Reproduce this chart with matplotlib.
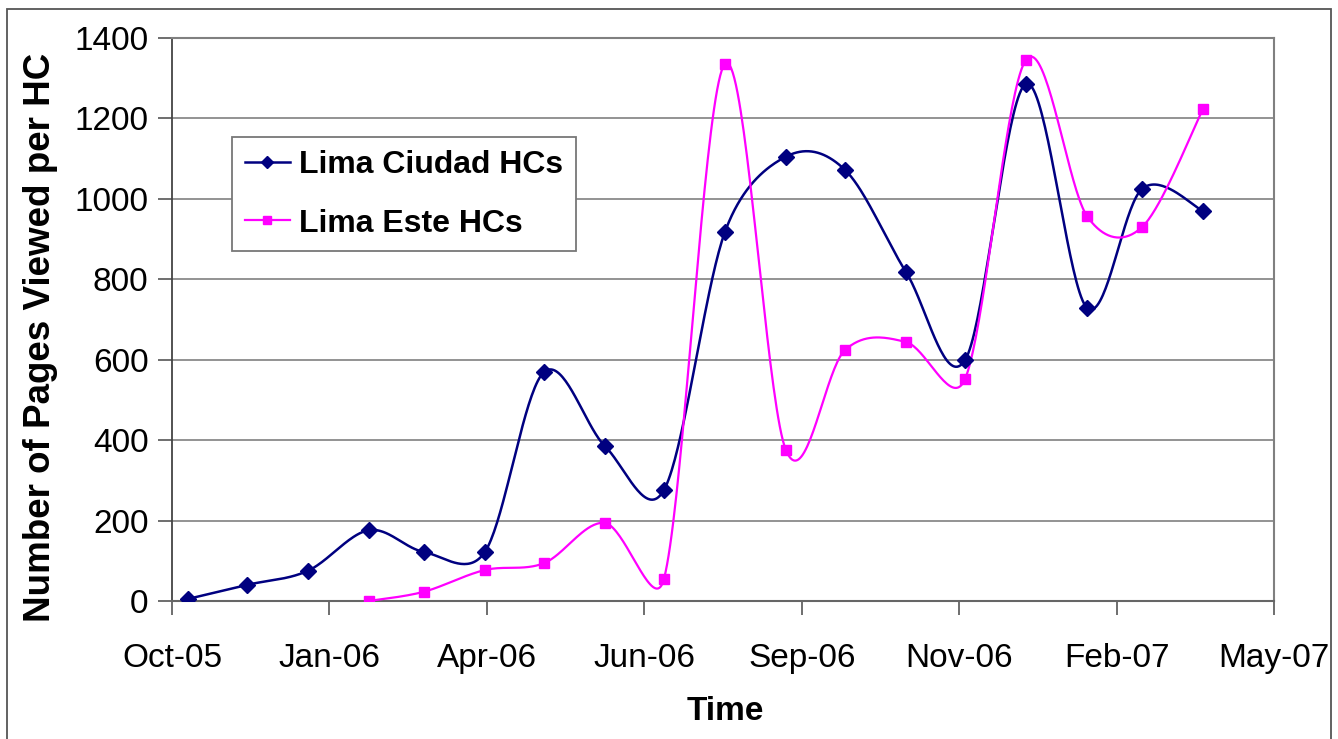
import datetime as dt
import numpy as np
import matplotlib
matplotlib.use('Agg')
import matplotlib.pyplot as plt
import matplotlib.dates as mdates
from matplotlib.patches import Rectangle
from matplotlib.lines import Line2D

plt.rcParams['font.family'] = ['Liberation Sans', 'DejaVu Sans']

# monthly data (first of month)
ciudad_months = [(2005, 11), (2005, 12), (2006, 1), (2006, 2), (2006, 3), (2006, 4),
                 (2006, 5), (2006, 6), (2006, 7), (2006, 8), (2006, 9), (2006, 10),
                 (2006, 11), (2006, 12), (2007, 1), (2007, 2), (2007, 3), (2007, 4)]
ciudad_vals = [5, 40, 75, 176, 122, 122, 569, 385, 276, 918, 1105, 1072,
               818, 599, 1286, 729, 1025, 970]

este_months = [(2006, 2), (2006, 3), (2006, 4), (2006, 5), (2006, 6), (2006, 7),
               (2006, 8), (2006, 9), (2006, 10), (2006, 11), (2006, 12), (2007, 1),
               (2007, 2), (2007, 3), (2007, 4)]
este_vals = [0, 23, 77, 94, 194, 55, 1336, 375, 624, 644, 552, 1346,
             957, 930, 1224]

# Excel-style date axis: 80-day major unit
tick_start = dt.date(2005, 10, 24)
tick_step = 80
n_ticks = 8


def smooth(ax, x, y, n=40):
    # excel-like smoothed line: bezier, tangent = (next - prev)/6,
    # capped at half the segment length (done in screen pixels)
    pts = ax.transData.transform(np.column_stack([x, y]))
    P = np.vstack([pts[0], pts, pts[-1]])
    t = np.linspace(0, 1, n)[:, None]
    out = []
    for i in range(1, len(P) - 2):
        p0, p3 = P[i], P[i + 1]
        seg = np.hypot(*(p3 - p0))
        d1 = (P[i + 1] - P[i - 1]) / 6.0
        d2 = (P[i + 2] - P[i]) / 6.0
        l1, l2 = np.hypot(*d1), np.hypot(*d2)
        if l1 > seg / 2:
            d1 = d1 * (seg / 2) / l1
        if l2 > seg / 2:
            d2 = d2 * (seg / 2) / l2
        p1 = p0 + d1
        p2 = p3 - d2
        b = (1 - t) ** 3 * p0 + 3 * (1 - t) ** 2 * t * p1 + 3 * (1 - t) * t ** 2 * p2 + t ** 3 * p3
        out.append(b)
    out = ax.transData.inverted().transform(np.vstack(out))
    return out[:, 0], out[:, 1]


fig = plt.figure(figsize=(13.38, 7.39), dpi=100)
ax = fig.add_axes([172 / 1338, 1 - 601 / 739, (1274 - 172) / 1338, (601 - 38) / 739])

xc = mdates.date2num([dt.date(y, m, 1) for y, m in ciudad_months])
xe = mdates.date2num([dt.date(y, m, 1) for y, m in este_months])

ticks = [mdates.date2num(tick_start + dt.timedelta(days=tick_step * k)) for k in range(n_ticks)]
ax.set_xticks(ticks)
ax.xaxis.set_major_formatter(mdates.DateFormatter('%b-%y'))
ax.set_xlim(ticks[0], ticks[-1])
ax.set_ylim(0, 1400)
ax.set_yticks(range(0, 1401, 200))

sx, sy = smooth(ax, xc, ciudad_vals)
ax.plot(sx, sy, color='#000080', lw=1.8, zorder=3)
ax.plot(xc, ciudad_vals, ls='none', marker='D', ms=8.3, color='#000080', zorder=4)

sx, sy = smooth(ax, xe, este_vals)
ax.plot(sx, sy, color='#FF00FF', lw=1.6, zorder=3)
ax.plot(xe, este_vals, ls='none', marker='s', ms=7.8, color='#FF00FF', zorder=4)

ax.set_xlim(ticks[0], ticks[-1])
ax.set_ylim(0, 1400)

ax.yaxis.grid(True, color='#808080', lw=1.2)
ax.set_axisbelow(True)
ax.tick_params(axis='both', labelsize=24, direction='out', length=10, width=1.2, color='#555555')
ax.tick_params(axis='x', pad=20)
ax.tick_params(axis='y', pad=7)
for s in ['top', 'right']:
    ax.spines[s].set_color('#808080')
    ax.spines[s].set_linewidth(1.5)
ax.spines['left'].set_color('#444444')
ax.spines['bottom'].set_color('#666666')
ax.spines['left'].set_linewidth(1.3)
ax.spines['bottom'].set_linewidth(1.5)

fig.text(725 / 1338, 1 - 712 / 739, 'Time', fontsize=24, fontweight='bold',
         ha='center', va='center')
fig.text(41 / 1338, 1 - 337 / 739, 'Number of Pages Viewed per HC', rotation=90,
         fontsize=26.5, fontweight='bold', ha='center', va='center')

handles = [Line2D([], [], color='#000080', lw=1.8, marker='D', ms=6),
           Line2D([], [], color='#FF00FF', lw=1.6, marker='s', ms=6)]
leg = ax.legend(handles, ['Lima Ciudad HCs', 'Lima Este HCs'], loc='upper left',
                bbox_to_anchor=((232 - 172) / 1102, (601 - 137) / 563),
                prop={'size': 23, 'weight': 'bold'}, frameon=True, fancybox=False,
                edgecolor='#777777', framealpha=1, handlelength=1.4,
                handletextpad=0.3, labelspacing=0.9, borderpad=0.4, borderaxespad=0)
leg.get_frame().set_linewidth(1.3)

# chart area border
fig.patches.append(Rectangle((7 / 1338, -0.02), (1331 - 7) / 1338, 1 - 9 / 739 + 0.02,
                             transform=fig.transFigure, fill=False,
                             edgecolor='#555555', lw=1.3))

fig.savefig('out.png', dpi=100)
